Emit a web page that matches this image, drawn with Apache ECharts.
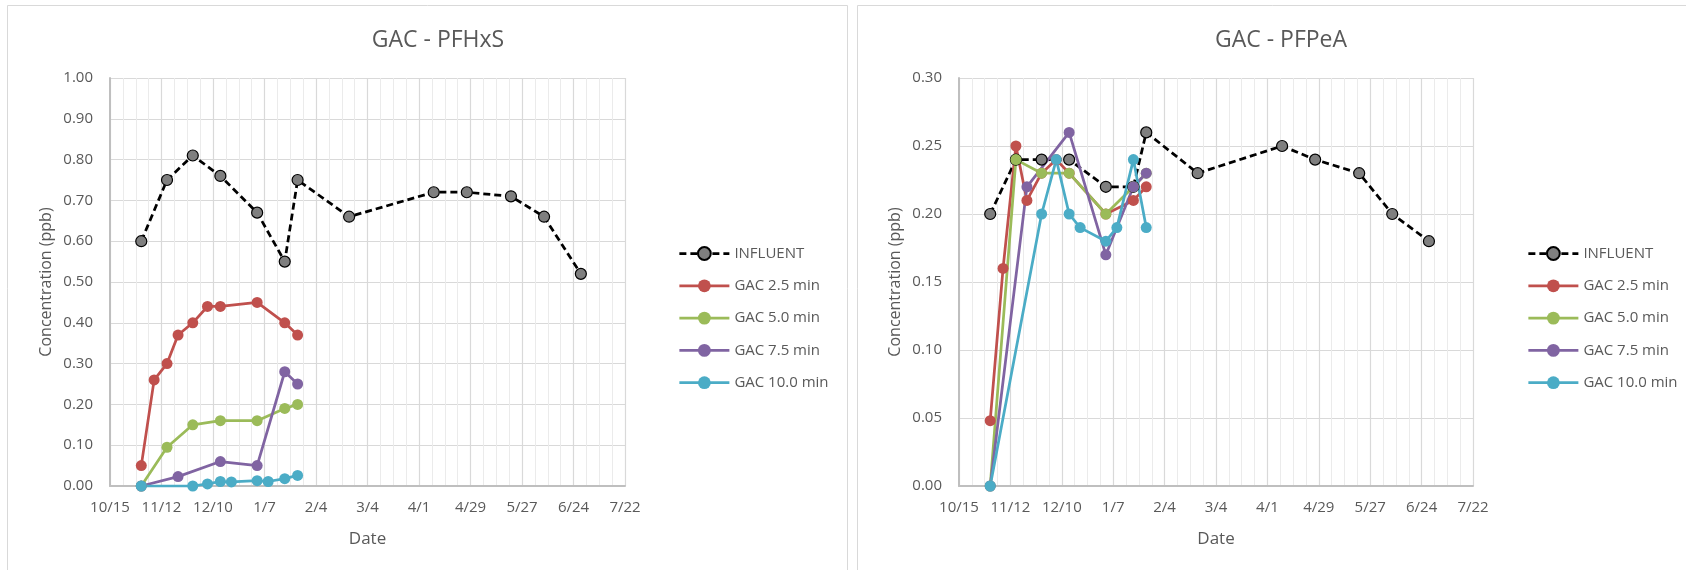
<!DOCTYPE html>
<html>
<head>
<meta charset="utf-8">
<script src="https://cdn.jsdelivr.net/npm/echarts@6/dist/echarts.min.js"></script>
<style>
html,body{margin:0;padding:0;background:#fff;}
#chart{width:1686px;height:570px;}
</style>
</head>
<body>
<div id="chart"></div>
<script>
// ---- data ----
const baseDate = '2018-10-15';
const tickLabels = ['10/15','11/12','12/10','1/7','2/4','3/4','4/1','4/29','5/27','6/24','7/22'];
const seriesNames = ['INFLUENT','GAC 2.5 min','GAC 5.0 min','GAC 7.5 min','GAC 10.0 min'];

const influentDates = ['2018-11-01','2018-11-15','2018-11-29','2018-12-14','2019-01-03','2019-01-18','2019-01-25','2019-02-22','2019-04-09','2019-04-27','2019-05-21','2019-06-08','2019-06-28'];
const gac25Dates = ['2018-11-01','2018-11-08','2018-11-15','2018-11-21','2018-11-29','2018-12-07','2018-12-14','2019-01-03','2019-01-18','2019-01-25'];
const gac50Dates = ['2018-11-01','2018-11-15','2018-11-29','2018-12-14','2019-01-03','2019-01-18','2019-01-25'];
const gac75Dates = ['2018-11-01','2018-11-21','2018-12-14','2019-01-03','2019-01-18','2019-01-25'];
const gac10Dates = ['2018-11-01','2018-11-29','2018-12-07','2018-12-14','2018-12-20','2019-01-03','2019-01-09','2019-01-18','2019-01-25'];

// GAC - PFHxS
const pfhxsInfluent = [0.60,0.75,0.81,0.76,0.67,0.55,0.75,0.66,0.72,0.72,0.71,0.66,0.52];
const pfhxsGac25 = [0.05,0.26,0.30,0.37,0.40,0.44,0.44,0.45,0.40,0.37];
const pfhxsGac50 = [0,0.095,0.15,0.16,0.16,0.19,0.20];
const pfhxsGac75 = [0,0.023,0.06,0.05,0.28,0.25];
const pfhxsGac10 = [0,0,0.005,0.011,0.01,0.013,0.011,0.018,0.026];

// GAC - PFPeA
const pfpeaInfluent = [0.20,0.24,0.24,0.24,0.22,0.22,0.26,0.23,0.25,0.24,0.23,0.20,0.18];
const pfpeaGac25 = [0.048,0.16,0.25,0.21,0.23,0.24,0.23,0.20,0.21,0.22];
const pfpeaGac50 = [0,0.24,0.23,0.23,0.20,0.22,0.23];
const pfpeaGac75 = [0,0.22,0.26,0.17,0.22,0.23];
const pfpeaGac10 = [0,0.20,0.24,0.20,0.19,0.18,0.19,0.24,0.19];

// ---- helpers ----
const DAY = 86400000;
function dayOf(d){ return Math.round((Date.parse(d) - Date.parse(baseDate)) / DAY); }
function pairs(dates, vals){ return dates.map((d,i)=>[dayOf(d), vals[i]]); }

const FONT = 'Open Sans';
const TXT = '#595959';
const colors = ['#000000','#c0504d','#9bbb59','#8064a2','#4bacc6'];

function makeSeries(idx, sets){
  const dateSets = [influentDates,gac25Dates,gac50Dates,gac75Dates,gac10Dates];
  return sets.map((vals,k)=>{
    const isInf = k===0;
    return {
      name: seriesNames[k],
      type: 'line',
      xAxisIndex: idx, yAxisIndex: idx,
      data: pairs(dateSets[k], vals),
      symbol: 'circle',
      symbolSize: 11,
      showSymbol: true,
      lineStyle: isInf ? {color:'#000', width:2.75, type:[7,4]} : {color:colors[k], width:2.75},
      itemStyle: isInf ? {color:'#7f7f7f', borderColor:'#000', borderWidth:1.2} : {color:colors[k], borderColor:colors[k], borderWidth:0},
      emphasis: {disabled:true},
      animation: false
    };
  });
}

function xAxis(idx){
  return {
    type:'value', gridIndex: idx, min:0, max:280, interval:28,
    name:'Date', nameLocation:'middle', nameGap:45,
    nameTextStyle:{fontFamily:FONT, fontSize:17, color:TXT},
    axisLine:{show:true, lineStyle:{color:'#bfbfbf', width:2}},
    axisTick:{show:false},
    axisLabel:{fontFamily:FONT, fontSize:15, color:TXT, margin:14,
      formatter:(v)=>tickLabels[Math.round(v/28)] || ''},
    splitLine:{show:true, lineStyle:{color:'#d9d9d9', width:1.2}},
    minorTick:{show:false, splitNumber:4},
    minorSplitLine:{show:true, lineStyle:{color:'#ebebeb', width:1}}
  };
}
function yAxis(idx, max, interval){
  return {
    type:'value', gridIndex: idx, min:0, max:max, interval:interval,
    name:'Concentration (ppb)', nameLocation:'middle', nameGap:56,
    nameTextStyle:{fontFamily:FONT, fontSize:16, color:TXT},
    axisLine:{show:true, lineStyle:{color:'#bfbfbf', width:2}},
    axisTick:{show:false},
    axisLabel:{fontFamily:FONT, fontSize:15, color:TXT, margin:17,
      formatter:(v)=>v.toFixed(2)},
    splitLine:{show:true, lineStyle:{color:'#d9d9d9', width:1.2}}
  };
}
function legend(left){
  return {
    orient:'vertical', left:left, top:241, itemWidth:50, itemHeight:16, itemGap:17.3,
    data: seriesNames,
    lineStyle:{width:2.75},
    textStyle:{fontFamily:FONT, fontSize:15, color:TXT},
    selectedMode:false
  };
}

const chart = echarts.init(document.getElementById('chart'), null, {renderer:'canvas'});
chart.setOption({
  backgroundColor:'#fff',
  animation:false,
  textStyle:{fontFamily:FONT},
  graphic:[
    {type:'rect', shape:{x:7.5,y:5.5,width:840,height:620}, style:{fill:'none', stroke:'#d9d9d9', lineWidth:1}, silent:true, z:-10},
    {type:'rect', shape:{x:857.5,y:5.5,width:840,height:620}, style:{fill:'none', stroke:'#d9d9d9', lineWidth:1}, silent:true, z:-10}
  ],
  title:[
    {text:'GAC - PFHxS', left:433, top:24, textAlign:'center', textStyle:{fontFamily:FONT, fontSize:23, fontWeight:'normal', color:TXT}},
    {text:'GAC - PFPeA', left:1276, top:24, textAlign:'center', textStyle:{fontFamily:FONT, fontSize:23, fontWeight:'normal', color:TXT}}
  ],
  legend:[legend(673), legend(1522)],
  grid:[
    {left:110, top:78, width:515, height:408},
    {left:959, top:78, width:514, height:408}
  ],
  xAxis:[xAxis(0), xAxis(1)],
  yAxis:[yAxis(0,1,0.1), yAxis(1,0.3,0.05)],
  series:[
    ...makeSeries(0,[pfhxsInfluent,pfhxsGac25,pfhxsGac50,pfhxsGac75,pfhxsGac10]),
    ...makeSeries(1,[pfpeaInfluent,pfpeaGac25,pfpeaGac50,pfpeaGac75,pfpeaGac10])
  ]
});
</script>
</body>
</html>
